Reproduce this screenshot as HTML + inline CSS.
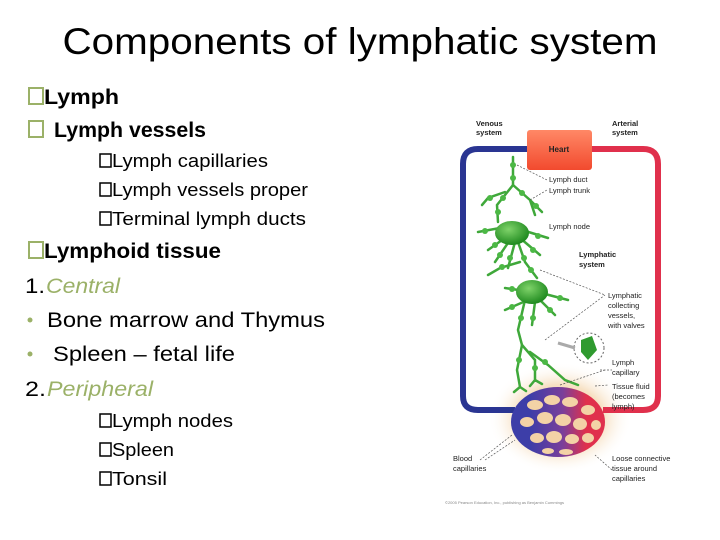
<!DOCTYPE html>
<html><head><meta charset="utf-8"><style>
html,body{margin:0;padding:0;background:#fff;width:720px;height:540px;overflow:hidden}
svg{display:block}
</style></head><body>
<svg width="720" height="540" viewBox="0 0 720 540" xmlns="http://www.w3.org/2000/svg" font-family="Liberation Sans, sans-serif">
<defs>
<radialGradient id="glow" cx="50%" cy="50%" r="50%"><stop offset="0" stop-color="#f3d2a6"/><stop offset="0.6" stop-color="#f7e1c4"/><stop offset="1" stop-color="#fff" stop-opacity="0"/></radialGradient>
<linearGradient id="bed" x1="0" x2="1"><stop offset="0.2" stop-color="#3d3ea8"/><stop offset="0.55" stop-color="#7a3f9a"/><stop offset="0.8" stop-color="#e0304c"/></linearGradient>
<radialGradient id="node" cx="40%" cy="35%" r="65%"><stop offset="0" stop-color="#7fd36a"/><stop offset="1" stop-color="#1f8a1f"/></radialGradient>
<linearGradient id="heart" x1="0" y1="0" x2="0" y2="1"><stop offset="0" stop-color="#ff8866"/><stop offset="1" stop-color="#f24a2e"/></linearGradient>
</defs>
<text x="360" y="54" font-size="37" text-anchor="middle" textLength="595" lengthAdjust="spacingAndGlyphs" fill="#000">Components of lymphatic system</text>
<g fill="#000">
<rect x="29" y="88" width="14" height="16" fill="none" stroke="#9bb168" stroke-width="2"/>
<text x="44" y="104" font-size="21" font-weight="bold" textLength="75" lengthAdjust="spacingAndGlyphs">Lymph</text>
<rect x="29" y="121" width="14" height="16" fill="none" stroke="#9bb168" stroke-width="2"/>
<text x="54" y="137" font-size="21" font-weight="bold" textLength="152" lengthAdjust="spacingAndGlyphs">Lymph vessels</text>
<g font-size="18">
<rect x="100" y="154" width="11" height="13" fill="none" stroke="#000" stroke-width="1.5"/>
<text x="112" y="167" textLength="156" lengthAdjust="spacingAndGlyphs">Lymph capillaries</text>
<rect x="100" y="183" width="11" height="13" fill="none" stroke="#000" stroke-width="1.5"/>
<text x="112" y="196" textLength="196" lengthAdjust="spacingAndGlyphs">Lymph vessels proper</text>
<rect x="100" y="212" width="11" height="13" fill="none" stroke="#000" stroke-width="1.5"/>
<text x="112" y="225" textLength="194" lengthAdjust="spacingAndGlyphs">Terminal lymph ducts</text>
</g>
<rect x="29" y="242" width="14" height="16" fill="none" stroke="#9bb168" stroke-width="2"/>
<text x="44" y="258" font-size="21" font-weight="bold" textLength="177" lengthAdjust="spacingAndGlyphs">Lymphoid tissue</text>
<text x="25" y="293" font-size="21" textLength="20" lengthAdjust="spacingAndGlyphs">1.</text>
<text x="46" y="293" font-size="21" font-style="italic" fill="#9bb168" textLength="74" lengthAdjust="spacingAndGlyphs">Central</text>
<circle cx="30" cy="320" r="2.5" fill="#9bb168"/>
<text x="47" y="327" font-size="21" textLength="278" lengthAdjust="spacingAndGlyphs">Bone marrow and Thymus</text>
<circle cx="30" cy="354" r="2.5" fill="#9bb168"/>
<text x="53" y="361" font-size="21" textLength="182" lengthAdjust="spacingAndGlyphs">Spleen – fetal life</text>
<text x="25" y="396" font-size="21" textLength="21" lengthAdjust="spacingAndGlyphs">2.</text>
<text x="47" y="396" font-size="21" font-style="italic" fill="#9bb168" textLength="106" lengthAdjust="spacingAndGlyphs">Peripheral</text>
<g font-size="18">
<rect x="100" y="414" width="11" height="13" fill="none" stroke="#000" stroke-width="1.5"/>
<text x="112" y="427" textLength="121" lengthAdjust="spacingAndGlyphs">Lymph nodes</text>
<rect x="100" y="443" width="11" height="13" fill="none" stroke="#000" stroke-width="1.5"/>
<text x="112" y="456" textLength="62" lengthAdjust="spacingAndGlyphs">Spleen</text>
<rect x="100" y="472" width="11" height="13" fill="none" stroke="#000" stroke-width="1.5"/>
<text x="112" y="485" textLength="55" lengthAdjust="spacingAndGlyphs">Tonsil</text>
</g>
</g>
<ellipse cx="560" cy="418" rx="72" ry="56" fill="url(#glow)"/>
<path d="M528 149 H478 Q463 149 463 164 V396 Q463 410 478 410 H515" fill="none" stroke="#2a3592" stroke-width="6"/>
<path d="M592 149 H643 Q658 149 658 164 V396 Q658 410 643 410 H603" fill="none" stroke="#e0304c" stroke-width="6"/>
<ellipse cx="558" cy="422" rx="47" ry="35" fill="url(#bed)"/>
<g fill="#f3d2a6">
<ellipse cx="535" cy="405" rx="8" ry="5"/><ellipse cx="552" cy="400" rx="8" ry="5"/><ellipse cx="570" cy="402" rx="8" ry="5"/><ellipse cx="588" cy="410" rx="7" ry="5"/>
<ellipse cx="527" cy="422" rx="7" ry="5"/><ellipse cx="545" cy="418" rx="8" ry="6"/><ellipse cx="563" cy="420" rx="8" ry="6"/><ellipse cx="580" cy="424" rx="7" ry="6"/><ellipse cx="596" cy="425" rx="5" ry="5"/>
<ellipse cx="537" cy="438" rx="7" ry="5"/><ellipse cx="554" cy="437" rx="8" ry="6"/><ellipse cx="572" cy="439" rx="7" ry="5"/><ellipse cx="588" cy="438" rx="6" ry="5"/>
<ellipse cx="548" cy="451" rx="6" ry="3"/><ellipse cx="566" cy="452" rx="7" ry="3"/>
</g>
<rect x="527" y="130" width="65" height="40" rx="3" fill="url(#heart)"/>
<text x="559" y="152" font-size="8" font-weight="bold" text-anchor="middle" fill="#222">Heart</text>
<g stroke="#3fa83a" stroke-width="2.5" fill="none" stroke-linecap="round">
<path d="M513 157 V185 L497 205 L498 222"/>
<path d="M513 185 L530 200 L542 212 M530 200 L535 215"/>
<path d="M505 192 L488 198 L482 205"/>
<path d="M512 233 L488 250 M510 240 L495 262 M515 242 L508 268 M520 238 L540 255 M522 230 L548 238 M500 228 L478 232"/>
<path d="M518 242 L525 262 L537 278"/>
<path d="M520 262 L500 268 L488 275"/>
<path d="M532 292 L505 288 M528 300 L505 310 M535 302 L532 325 M540 300 L555 315 M545 294 L568 300"/>
<path d="M525 300 L518 330 L522 345 L517 370 L520 387 M520 387 L514 392 M520 387 L526 391"/>
<path d="M522 345 L535 360 L535 380 M535 380 L530 386 M535 380 L542 384"/>
<path d="M530 352 L548 365 L565 380 L578 385"/>
</g>
<g fill="#4cb845">
<circle cx="513" cy="165" r="3"/><circle cx="513" cy="178" r="3"/><circle cx="503" cy="198" r="3"/><circle cx="498" cy="212" r="3"/><circle cx="522" cy="193" r="3"/><circle cx="536" cy="206" r="3"/><circle cx="490" cy="198" r="3"/>
<circle cx="495" cy="245" r="3"/><circle cx="500" cy="255" r="3"/><circle cx="510" cy="258" r="3"/><circle cx="533" cy="250" r="3"/><circle cx="538" cy="236" r="3"/><circle cx="485" cy="231" r="3"/>
<circle cx="524" cy="258" r="3"/><circle cx="531" cy="270" r="3"/><circle cx="502" cy="267" r="3"/>
<circle cx="512" cy="289" r="3"/><circle cx="512" cy="307" r="3"/><circle cx="533" cy="318" r="3"/><circle cx="550" cy="310" r="3"/><circle cx="560" cy="298" r="3"/>
<circle cx="521" cy="318" r="3"/><circle cx="519" cy="360" r="3"/><circle cx="535" cy="368" r="3"/><circle cx="545" cy="362" r="3"/>
</g>
<ellipse cx="512" cy="233" rx="17" ry="12" fill="url(#node)"/>
<ellipse cx="532" cy="292" rx="16" ry="12" fill="url(#node)"/>
<circle cx="589" cy="348" r="15" fill="#fff" stroke="#666" stroke-dasharray="2 2"/>
<path d="M581 340 L592 336 L597 350 L588 360 L581 352 Z" fill="#2f9a2f"/>
<path d="M558 343 L575 348" stroke="#aaa" stroke-width="3"/>
<g stroke="#555" stroke-width="0.7" fill="none" stroke-dasharray="2 1.5">
<path d="M517 165 L547 180"/><path d="M530 200 L547 190"/>
<path d="M540 270 L605 295 M545 340 L605 295 M560 385 L605 370 M600 370 L612 370 M595 386 L608 385 M485 460 L515 440 M612 470 L595 455 M480 460 L512 435"/>
</g>
<g font-size="7.5" font-weight="bold" fill="#222">
<text x="476" y="126">Venous</text><text x="476" y="135">system</text>
<text x="612" y="126">Arterial</text><text x="612" y="135">system</text>
<text x="579" y="257">Lymphatic</text><text x="579" y="267">system</text>
</g>
<g font-size="7.5" fill="#222">
<text x="549" y="182">Lymph duct</text><text x="549" y="193">Lymph trunk</text>
<text x="549" y="229">Lymph node</text>
<text x="608" y="298">Lymphatic</text><text x="608" y="308">collecting</text><text x="608" y="318">vessels,</text><text x="608" y="328">with valves</text>
<text x="612" y="365">Lymph</text><text x="612" y="375">capillary</text>
<text x="612" y="389">Tissue fluid</text><text x="612" y="399">(becomes</text><text x="612" y="409">lymph)</text>
<text x="453" y="461">Blood</text><text x="453" y="471">capillaries</text>
<text x="612" y="461">Loose connective</text><text x="612" y="471">tissue around</text><text x="612" y="481">capillaries</text>
<text x="445" y="504" font-size="4" fill="#888">©2005 Pearson Education, Inc., publishing as Benjamin Cummings</text>
</g>
</svg>
</body></html>
